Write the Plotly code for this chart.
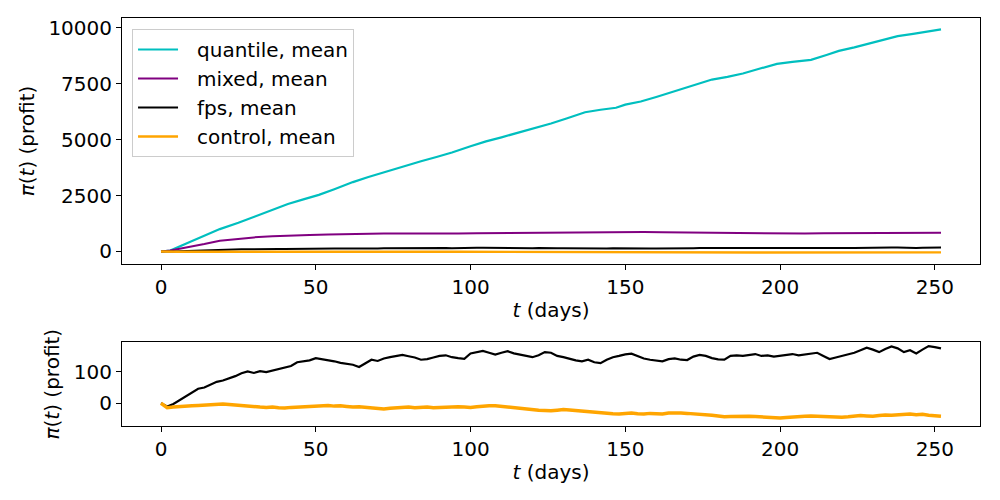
import plotly.graph_objects as go
from plotly.subplots import make_subplots

# ---------------- data ----------------
quantile_days = [0, 3, 8, 13, 19, 25, 30, 35, 41, 46, 51, 56, 62, 67, 73, 78, 84, 89, 94, 100,
                 105, 110, 116, 121, 126, 131, 137, 142, 147, 150, 155, 160, 165, 170, 175, 178,
                 183, 188, 193, 199, 204, 210, 215, 219, 224, 229, 234, 238, 243, 248, 252]
quantile_mean = [0, 40, 350, 640, 1000, 1280, 1540, 1800, 2120, 2330, 2530, 2780, 3100, 3330, 3580,
                 3800, 4030, 4220, 4420, 4700, 4920, 5100, 5320, 5520, 5720, 5940, 6220, 6330, 6420,
                 6560, 6700, 6900, 7120, 7330, 7550, 7680, 7800, 7950, 8150, 8380, 8470, 8560, 8780,
                 8960, 9120, 9290, 9450, 9620, 9720, 9830, 9920]

mixed_days = [0, 3, 6, 10, 14, 19, 24, 30, 36, 42, 48, 54, 60, 66, 72, 78, 84, 90, 96, 102, 108,
              114, 120, 126, 132, 138, 144, 150, 156, 162, 168, 174, 180, 186, 192, 198, 202, 208,
              214, 220, 226, 232, 238, 244, 248, 252]
mixed_mean = [0, 40, 120, 220, 330, 480, 560, 630, 680, 720, 740, 760, 780, 800, 805, 800, 795, 810,
              805, 815, 825, 835, 840, 850, 855, 860, 870, 880, 870, 860, 850, 835, 830, 820, 805,
              790, 785, 800, 815, 820, 825, 830, 840, 850, 845, 840]

fine_days = list(range(0, 253, 2))
fps_mean = [0, -10, -2, 10, 22, 35, 46, 50, 58, 68, 72, 78, 86, 95, 101, 96, 102, 99, 104, 108,
            112, 118, 130, 132, 136, 143, 140, 138, 133, 128, 126, 122, 115, 126, 138, 134, 142,
            146, 150, 153, 149, 145, 138, 140, 145, 150, 152, 146, 143, 141, 158, 162, 166, 160,
            154, 160, 165, 158, 154, 150, 146, 152, 162, 160, 150, 146, 140, 136, 133, 138, 130,
            127, 138, 146, 150, 155, 157, 150, 142, 138, 136, 133, 140, 142, 138, 137, 148, 153,
            150, 143, 139, 138, 150, 152, 150, 153, 156, 150, 152, 148, 150, 153, 156, 152, 155,
            158, 160, 150, 140, 145, 150, 153, 160, 168, 176, 170, 162, 172, 180, 174, 162, 168,
            158, 170, 181, 178, 174]
control_mean = [0, -14, -12, -10, -9, -8, -7, -6, -5, -3, -2, -4, -6, -8, -10, -11, -12, -13, -12,
                -14, -15, -13, -12, -11, -12, -10, -9, -7, -9, -8, -10, -12, -11, -13, -15, -17,
                -18, -16, -14, -13, -12, -14, -13, -12, -14, -13, -12, -12, -11, -12, -13, -11, -9,
                -8, -8, -10, -12, -14, -18, -20, -21, -22, -23, -24, -22, -20, -21, -23, -24, -26,
                -28, -30, -31, -33, -34, -33, -31, -33, -34, -32, -33, -34, -31, -30, -31, -32,
                -33, -35, -36, -38, -40, -43, -42, -41, -40, -41, -42, -43, -44, -46, -47, -45,
                -43, -42, -41, -40, -41, -42, -43, -44, -44, -43, -41, -39, -40, -41, -39, -37,
                -38, -36, -35, -34, -36, -35, -38, -40, -41]

x_ticks = [0, 50, 100, 150, 200, 250]
top_y_ticks = [0, 2500, 5000, 7500, 10000]
top_y_labels = ["0", "2500", "5000", "7500", "10000"]
bottom_y_ticks = [0, 100]
bottom_y_labels = ["0", "100"]
legend_names = ["quantile, mean", "mixed, mean", "fps, mean", "control, mean"]

CYAN = "#00BFBF"
PURPLE = "#800080"
BLACK = "#000000"
ORANGE = "#FFA500"

FONT = "DejaVu Sans"
FS = 20
GAP = "\u2002\u2009"  # small extra space between legend sample and text

fig = make_subplots(rows=2, cols=1)

fig.add_trace(go.Scatter(x=quantile_days, y=quantile_mean, mode="lines",
                         name=GAP + legend_names[0],
                         line=dict(color=CYAN, width=2.2)), row=1, col=1)
fig.add_trace(go.Scatter(x=mixed_days, y=mixed_mean, mode="lines",
                         name=GAP + legend_names[1],
                         line=dict(color=PURPLE, width=2)), row=1, col=1)
fig.add_trace(go.Scatter(x=fine_days, y=fps_mean, mode="lines",
                         name=GAP + legend_names[2],
                         line=dict(color=BLACK, width=2)), row=1, col=1)
fig.add_trace(go.Scatter(x=fine_days, y=control_mean, mode="lines",
                         name=GAP + legend_names[3],
                         line=dict(color=ORANGE, width=2.4)), row=1, col=1)

fig.add_trace(go.Scatter(x=fine_days, y=fps_mean, mode="lines", showlegend=False,
                         line=dict(color=BLACK, width=2.2)), row=2, col=1)
fig.add_trace(go.Scatter(x=fine_days, y=control_mean, mode="lines", showlegend=False,
                         line=dict(color=ORANGE, width=3.5)), row=2, col=1)

axis_common = dict(showgrid=False, zeroline=False, showline=True, mirror=True,
                   linecolor="black", linewidth=1, ticks="outside", ticklen=5,
                   tickcolor="black", automargin=False,
                   tickfont=dict(family=FONT, size=FS, color="black"))

title_font = dict(family=FONT, size=FS, color="black")

fig.update_xaxes(**axis_common, range=[-12.6, 264.6], tickvals=x_ticks)
fig.update_xaxes(domain=[0, 1], row=1, col=1,
                 title=dict(text="<i>t</i> (days)", font=title_font, standoff=4))
fig.update_xaxes(domain=[0, 1], row=2, col=1,
                 title=dict(text="<i>t</i> (days)", font=title_font, standoff=4))

fig.update_yaxes(**axis_common)
fig.update_yaxes(domain=[0.397, 1.0], range=[-560, 10430], tickvals=top_y_ticks,
                 ticktext=top_y_labels, row=1, col=1,
                 title=dict(text="<i>π</i>(<i>t</i>) (profit)", font=title_font, standoff=8))
fig.update_yaxes(domain=[0.0, 0.205], range=[-72, 193], tickvals=bottom_y_ticks,
                 ticktext=bottom_y_labels, row=2, col=1,
                 title=dict(text="<i>π</i>(<i>t</i>) (profit)", font=title_font, standoff=8))

fig.update_layout(
    width=1000, height=500,
    margin=dict(l=122, r=20, t=18, b=74),
    plot_bgcolor="white", paper_bgcolor="white",
    font=dict(family=FONT, size=FS, color="black"),
    legend=dict(x=0.0117, y=0.973, xanchor="left", yanchor="top",
                bgcolor="rgba(255,255,255,0.8)", bordercolor="#cccccc", borderwidth=1,
                font=dict(family=FONT, size=FS), tracegroupgap=0, itemwidth=40),
)

fig.write_html("out.html", config={"displayModeBar": False},
               post_script="document.body.style.margin='0';document.body.style.overflow='hidden';")
